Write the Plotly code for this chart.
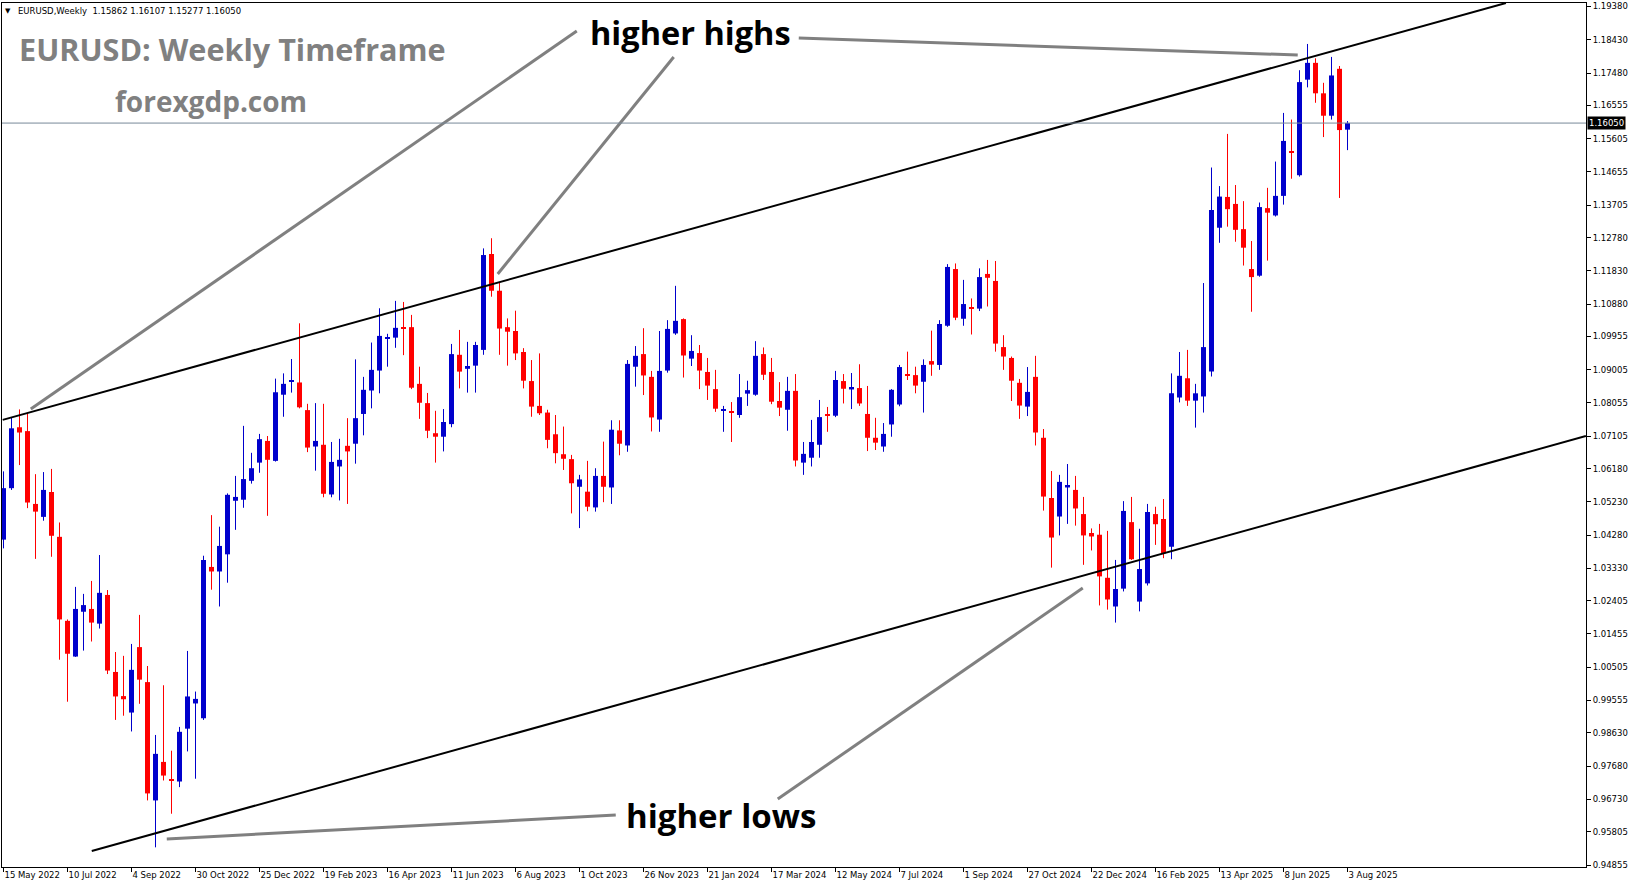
import plotly.graph_objects as go

# ---------------- data (weekly EURUSD candles, week index 0 = 15 May 2022) ----------------
open_ = [1.0415, 1.0562, 1.0736, 1.0725, 1.0517, 1.0480, 1.0551, 1.0423, 1.0183, 1.0081,
         1.0209, 1.0217, 1.0175, 1.0257, 1.0037, 0.9968, 0.9921, 1.0108, 1.0008, 0.9670,
         0.9780, 0.9731, 0.9724, 0.9875, 0.9947, 0.9905, 1.0337, 1.0324, 1.0373, 1.0526,
         1.0529, 1.0583, 1.0635, 1.0697, 1.0640, 1.0829, 1.0866, 1.0864, 1.0785, 1.0681,
         1.0686, 1.0544, 1.0624, 1.0683, 1.0689, 1.0774, 1.0841, 1.0898, 1.0990, 1.0992,
         1.1022, 1.1022, 1.0860, 1.0805, 1.0719, 1.0709, 1.0745, 1.0943, 1.0903, 1.0912,
         1.0957, 1.1231, 1.1126, 1.1022, 1.1011, 1.0951, 1.0868, 1.0797, 1.0778, 1.0716,
         1.0659, 1.0645, 1.0566, 1.0552, 1.0507, 1.0597, 1.0564, 1.0727, 1.0684, 1.0909,
         1.0945, 1.0880, 1.0758, 1.0898, 1.1004, 1.1045, 1.0932, 1.0948, 1.0894, 1.0845,
         1.0785, 1.0781, 1.0771, 1.0832, 1.0829, 1.0945, 1.0894, 1.0811, 1.0786, 1.0840,
         1.0635, 1.0649, 1.0686, 1.0772, 1.0769, 1.0868, 1.0844, 1.0848, 1.0774, 1.0706,
         1.0681, 1.0744, 1.0801, 1.0888, 1.0885, 1.0866, 1.0925, 1.0914, 1.1026, 1.1188,
         1.1046, 1.1079, 1.1075, 1.1174, 1.1154, 1.0965, 1.0934, 1.0863, 1.0795, 1.0880,
         1.0706, 1.0534, 1.0481, 1.0564, 1.0557, 1.0488, 1.0434, 1.0429, 1.0306, 1.0224,
         1.0275, 1.0465, 1.0238, 1.0290, 1.0488, 1.0474, 1.0395, 1.0821, 1.0876, 1.0812,
         1.0824, 1.0895, 1.1306, 1.1394, 1.1374, 1.1302, 1.1188, 1.1169, 1.1362, 1.1341,
         1.1397, 1.1525, 1.1456, 1.1729, 1.1777, 1.1690, 1.1626, 1.1760, 1.15862]
high = [1.0610, 1.0765, 1.0787, 1.0776, 1.0602, 1.0608, 1.0617, 1.0464, 1.0187, 1.0280,
        1.0260, 1.0297, 1.0371, 1.0271, 1.0094, 1.0083, 1.0117, 1.0200, 1.0054, 0.9857,
        0.9999, 0.9812, 0.9880, 1.0097, 0.9981, 1.0369, 1.0485, 1.0452, 1.0547, 1.0597,
        1.0740, 1.0663, 1.0717, 1.0711, 1.0875, 1.0890, 1.0931, 1.1033, 1.0803, 1.0805,
        1.0803, 1.0694, 1.0703, 1.0762, 1.0930, 1.0880, 1.0978, 1.1076, 1.1003, 1.1097,
        1.1094, 1.1057, 1.0909, 1.0834, 1.0783, 1.0788, 1.0974, 1.1014, 1.0980, 1.0980,
        1.1247, 1.1276, 1.1150, 1.1047, 1.1069, 1.0962, 1.0928, 1.0947, 1.0786, 1.0771,
        1.0738, 1.0657, 1.0600, 1.0640, 1.0619, 1.0695, 1.0756, 1.0756, 1.0928, 1.0968,
        1.1019, 1.0897, 1.1011, 1.1042, 1.1140, 1.1047, 1.0999, 1.0971, 1.0934, 1.0900,
        1.0797, 1.0808, 1.0888, 1.0869, 1.0982, 1.0964, 1.0934, 1.0865, 1.0880, 1.0888,
        1.0694, 1.0757, 1.0814, 1.0794, 1.0897, 1.0888, 1.0891, 1.0916, 1.0854, 1.0763,
        1.0748, 1.0845, 1.0914, 1.0952, 1.0909, 1.0930, 1.1012, 1.1042, 1.1202, 1.1204,
        1.1157, 1.1104, 1.1190, 1.1214, 1.1211, 1.0999, 1.0938, 1.0874, 1.0908, 1.0940,
        1.0731, 1.0611, 1.0600, 1.0631, 1.0597, 1.0537, 1.0447, 1.0460, 1.0440, 1.0357,
        1.0525, 1.0537, 1.0446, 1.0517, 1.0509, 1.0531, 1.0890, 1.0951, 1.0957, 1.0860,
        1.1148, 1.1478, 1.1425, 1.1574, 1.1428, 1.1382, 1.1268, 1.1378, 1.1420, 1.1495,
        1.1634, 1.1615, 1.1756, 1.1831, 1.1790, 1.1720, 1.1794, 1.1768, 1.16107]
low = [1.0390, 1.0557, 1.0628, 1.0505, 1.0360, 1.0469, 1.0366, 1.0072, 0.9952, 1.0080,
       1.0098, 1.0124, 1.0161, 1.0031, 0.9900, 0.9912, 0.9867, 0.9946, 0.9670, 0.9536,
       0.9727, 0.9632, 0.9708, 0.9810, 0.9732, 0.9900, 1.0272, 1.0224, 1.0292, 1.0443,
       1.0506, 1.0575, 1.0606, 1.0483, 1.0638, 1.0766, 1.0835, 1.0790, 1.0665, 1.0612,
       1.0536, 1.0536, 1.0527, 1.0517, 1.0632, 1.0713, 1.0790, 1.0833, 1.0909, 1.0963,
       1.0942, 1.0845, 1.0760, 1.0705, 1.0635, 1.0667, 1.0736, 1.0847, 1.0835, 1.0835,
       1.0943, 1.1109, 1.0943, 1.0912, 1.0928, 1.0847, 1.0766, 1.0771, 1.0676, 1.0633,
       1.0614, 1.0490, 1.0448, 1.0496, 1.0495, 1.0522, 1.0517, 1.0656, 1.0666, 1.0852,
       1.0828, 1.0724, 1.0723, 1.0892, 1.1000, 1.0878, 1.0911, 1.0845, 1.0814, 1.0780,
       1.0723, 1.0694, 1.0763, 1.0797, 1.0826, 1.0871, 1.0802, 1.0768, 1.0726, 1.0624,
       1.0600, 1.0624, 1.0649, 1.0723, 1.0765, 1.0804, 1.0788, 1.0797, 1.0668, 1.0671,
       1.0666, 1.0709, 1.0796, 1.0871, 1.0833, 1.0778, 1.0883, 1.0900, 1.1023, 1.1042,
       1.1026, 1.1001, 1.1068, 1.1081, 1.0952, 1.0900, 1.0811, 1.0760, 1.0768, 1.0684,
       1.0498, 1.0335, 1.0427, 1.0460, 1.0455, 1.0343, 1.0384, 1.0227, 1.0215, 1.0178,
       1.0267, 1.0357, 1.0210, 1.0284, 1.0400, 1.0362, 1.0359, 1.0807, 1.0797, 1.0735,
       1.0778, 1.0881, 1.1263, 1.1309, 1.1266, 1.1198, 1.1066, 1.1166, 1.1212, 1.1338,
       1.1372, 1.1446, 1.1452, 1.1707, 1.1663, 1.1565, 1.1615, 1.1391, 1.15277]
close = [1.0562, 1.0733, 1.0721, 1.0521, 1.0495, 1.0557, 1.0426, 1.0187, 1.0089, 1.0217,
         1.0228, 1.0178, 1.0263, 1.0041, 0.9967, 0.9959, 1.0043, 1.0015, 0.9690, 0.9803,
         0.9741, 0.9727, 0.9866, 0.9967, 0.9960, 1.0357, 1.0324, 1.0397, 1.0543, 1.0537,
         1.0588, 1.0619, 1.0702, 1.0643, 1.0836, 1.0860, 1.0870, 1.0793, 1.0678, 1.0697,
         1.0546, 1.0637, 1.0643, 1.0667, 1.0762, 1.0843, 1.0900, 1.0997, 1.0992, 1.1020,
         1.1018, 1.0849, 1.0806, 1.0726, 1.0709, 1.0751, 1.0945, 1.0895, 1.0911, 1.0971,
         1.1228, 1.1126, 1.1018, 1.1009, 1.0947, 1.0869, 1.0795, 1.0776, 1.0700, 1.0662,
         1.0646, 1.0576, 1.0587, 1.0509, 1.0597, 1.0566, 1.0729, 1.0689, 1.0917, 1.0940,
         1.0884, 1.0764, 1.0897, 1.1017, 1.1040, 1.0941, 1.0954, 1.0898, 1.0855, 1.0789,
         1.0788, 1.0778, 1.0822, 1.0842, 1.0940, 1.0886, 1.0809, 1.0792, 1.0840, 1.0641,
         1.0660, 1.0694, 1.0765, 1.0769, 1.0871, 1.0846, 1.0851, 1.0804, 1.0706, 1.0692,
         1.0717, 1.0843, 1.0908, 1.0884, 1.0855, 1.0914, 1.0915, 1.1031, 1.1194, 1.1049,
         1.1088, 1.1076, 1.1165, 1.1163, 1.0975, 1.0938, 1.0869, 1.0798, 1.0837, 1.0721,
         1.0538, 1.0421, 1.0580, 1.0571, 1.0504, 1.0427, 1.0424, 1.0310, 1.0244, 1.0274,
         1.0497, 1.0359, 1.0331, 1.0494, 1.0459, 1.0376, 1.0833, 1.0883, 1.0812, 1.0833,
         1.0965, 1.1357, 1.1395, 1.1359, 1.1300, 1.1249, 1.1165, 1.1365, 1.1349, 1.1397,
         1.1554, 1.1520, 1.1722, 1.1777, 1.1690, 1.1626, 1.1741, 1.1585, 1.16050]

x_tick_weeks = [0, 8, 16, 24, 32, 40, 48, 56, 64, 72, 80, 88, 96, 104, 112, 120, 128,
                136, 144, 152, 160, 168]
x_tick_labels = ["15 May 2022", "10 Jul 2022", "4 Sep 2022", "30 Oct 2022", "25 Dec 2022",
                 "19 Feb 2023", "16 Apr 2023", "11 Jun 2023", "6 Aug 2023", "1 Oct 2023",
                 "26 Nov 2023", "21 Jan 2024", "17 Mar 2024", "12 May 2024", "7 Jul 2024",
                 "1 Sep 2024", "27 Oct 2024", "22 Dec 2024", "16 Feb 2025", "13 Apr 2025",
                 "8 Jun 2025", "3 Aug 2025"]
y_tick_values = [1.19380, 1.18430, 1.17480, 1.16555, 1.15605, 1.14655, 1.13705, 1.12780,
                 1.11830, 1.10880, 1.09955, 1.09005, 1.08055, 1.07105, 1.06180, 1.05230,
                 1.04280, 1.03330, 1.02405, 1.01455, 1.00505, 0.99555, 0.98630, 0.97680,
                 0.96730, 0.95805, 0.94855]
y_tick_labels = ["1.19380", "1.18430", "1.17480", "1.16555", "1.15605", "1.14655", "1.13705",
                 "1.12780", "1.11830", "1.10880", "1.09955", "1.09005", "1.08055", "1.07105",
                 "1.06180", "1.05230", "1.04280", "1.03330", "1.02405", "1.01455", "1.00505",
                 "0.99555", "0.98630", "0.97680", "0.96730", "0.95805", "0.94855"]

last_price = 1.16050
last_price_label = "1.16050"
header_text = "EURUSD,Weekly  1.15862 1.16107 1.15277 1.16050"

# channel trendlines (week index, price)
upper_line_x = [-0.1, 187.8]
upper_line_y = [1.0757, 1.1948]
lower_line_x = [11.03, 197.8]
lower_line_y = [0.95255, 1.0711]

# grey pointer lines (week index, price)
pointer_x = [[71.66, 3.41], [83.78, 61.78], [99.41, 161.78], [76.53, 20.41], [96.78, 134.91]]
pointer_y = [[1.18681, 1.07882], [1.17937, 1.11738], [1.18480, 1.17994], [0.96283, 0.95598],
             [0.96740, 1.02768]]

# ---------------- layout constants ----------------
W, H = 1631, 888
ML, MR, MT, MB = 2, 45, 3, 21
PW, PH = W - ML - MR, H - MT - MB
BULL = "#0000CC"
BEAR = "#FF0000"
SMALL_FONT = "DejaVu Sans"
BIG_FONT = "Open Sans"


def px(x):
    return (x - ML) / PW


def py(y):
    return 1 - (y - MT) / PH


fig = go.Figure()

# wicks
for is_up, color in ((True, BULL), (False, BEAR)):
    wx, wy = [], []
    for i, (o, h, l, c) in enumerate(zip(open_, high, low, close)):
        if (c >= o) == is_up:
            wx += [i, i, None]
            wy += [l, h, None]
    fig.add_trace(go.Scatter(x=wx, y=wy, mode="lines", line=dict(color=color, width=1),
                             hoverinfo="skip", showlegend=False))

# bodies
for is_up, color in ((True, BULL), (False, BEAR)):
    bx, bb, bh = [], [], []
    for i, (o, c) in enumerate(zip(open_, close)):
        if (c >= o) == is_up:
            bx.append(i)
            bb.append(min(o, c))
            bh.append(max(abs(c - o), 0.0003))
    fig.add_trace(go.Bar(x=bx, y=bh, base=bb, width=0.625, marker=dict(color=color, line=dict(width=0)),
                         hoverinfo="skip", showlegend=False))

# channel lines
for lx, ly in ((upper_line_x, upper_line_y), (lower_line_x, lower_line_y)):
    fig.add_trace(go.Scatter(x=lx, y=ly, mode="lines", line=dict(color="black", width=2),
                             hoverinfo="skip", showlegend=False))

# pointer lines
for lx, ly in zip(pointer_x, pointer_y):
    fig.add_trace(go.Scatter(x=lx, y=ly, mode="lines", line=dict(color="#808080", width=3),
                             hoverinfo="skip", showlegend=False))

# current price line
fig.add_shape(type="line", xref="paper", yref="y", x0=0, x1=1, y0=last_price, y1=last_price,
              line=dict(color="#778899", width=1))

annotations = [
    dict(text="▼", x=px(3), y=py(11), xref="paper", yref="paper", xanchor="left", yanchor="middle",
         showarrow=False, font=dict(family=SMALL_FONT, size=7, color="black")),
    dict(text=header_text, x=px(16), y=py(11), xref="paper", yref="paper", xanchor="left",
         yanchor="middle", showarrow=False, font=dict(family=SMALL_FONT, size=8.5, color="black")),
    dict(text="<b>EURUSD: Weekly Timeframe</b>", x=px(17), y=py(49), xref="paper", yref="paper",
         xanchor="left", yanchor="middle", showarrow=False,
         font=dict(family=BIG_FONT, size=30.6, color="#808080")),
    dict(text="<b>forexgdp.com</b>", x=px(113), y=py(101), xref="paper", yref="paper",
         xanchor="left", yanchor="middle", showarrow=False,
         font=dict(family=BIG_FONT, size=28, color="#808080")),
    dict(text="<b>higher highs</b>", x=px(588), y=py(33), xref="paper", yref="paper",
         xanchor="left", yanchor="middle", showarrow=False,
         font=dict(family=BIG_FONT, size=32.5, color="black")),
    dict(text="<b>higher lows</b>", x=px(624), y=py(815), xref="paper", yref="paper",
         xanchor="left", yanchor="middle", showarrow=False,
         font=dict(family=BIG_FONT, size=33, color="black")),
    dict(text=last_price_label, x=1, y=last_price, xref="paper", yref="y", xanchor="left",
         yanchor="middle", showarrow=False, bgcolor="black", borderpad=1, xshift=1,
         font=dict(family=SMALL_FONT, size=8.5, color="white")),
]

fig.update_layout(
    width=W, height=H, autosize=False,
    margin=dict(l=ML, r=MR, t=MT, b=MB, pad=0),
    paper_bgcolor="white", plot_bgcolor="white",
    barmode="overlay", showlegend=False, hovermode=False,
    annotations=annotations,
    xaxis=dict(range=[-0.1875, 197.8125], tickvals=x_tick_weeks, ticktext=x_tick_labels,
               ticks="outside", ticklen=4, tickcolor="black", ticklabelposition="outside right",
               tickfont=dict(family=SMALL_FONT, size=8.5, color="black"),
               showgrid=False, zeroline=False, showline=True, linecolor="black", linewidth=1,
               mirror=True, fixedrange=True),
    yaxis=dict(range=[0.94798, 1.19480], side="right", tickvals=y_tick_values,
               ticktext=y_tick_labels, ticks="outside", ticklen=4, tickcolor="black",
               tickfont=dict(family=SMALL_FONT, size=8.5, color="black"),
               showgrid=False, zeroline=False, showline=True, linecolor="black", linewidth=1,
               mirror=True, fixedrange=True),
)

fig.write_html("out.html", config={"displayModeBar": False},
               post_script="document.body.style.margin='0px';document.body.style.overflow='hidden';")
